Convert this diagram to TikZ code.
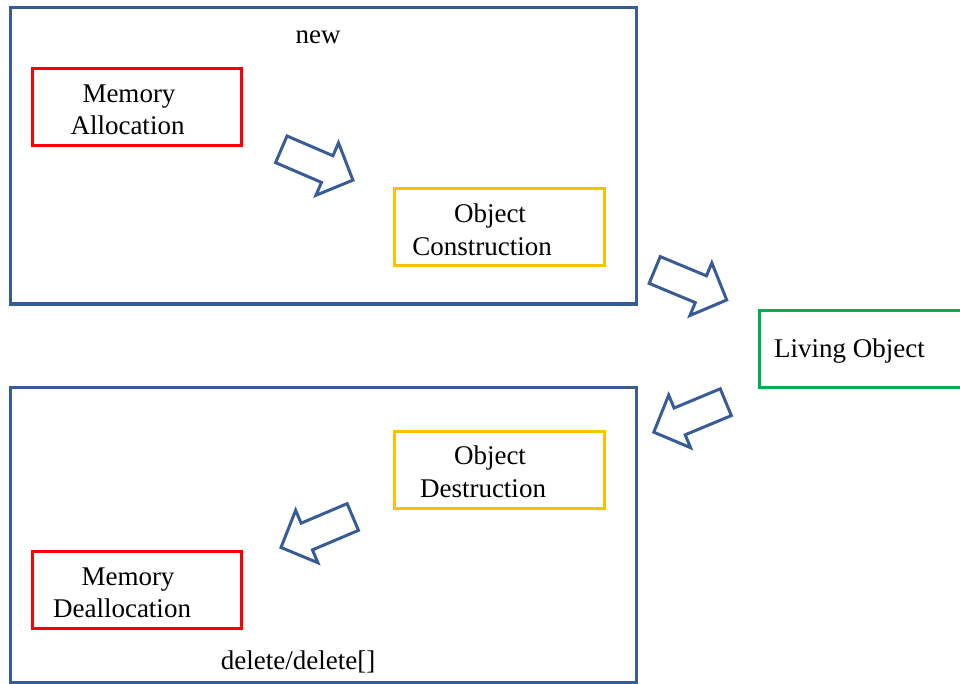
\documentclass[tikz,border=0pt]{standalone}
\usepackage{fontspec}
\setmainfont{Liberation Serif}
\definecolor{frameblue}{RGB}{56,93,150}
\definecolor{boxred}{RGB}{255,0,0}
\definecolor{boxorange}{RGB}{255,192,0}
\definecolor{boxgreen}{RGB}{0,176,80}
\tikzset{
  bigframe/.style={draw=frameblue, line width=3pt, inner sep=0pt},
  redbox/.style={draw=boxred, line width=3pt, minimum width=209pt, minimum height=77pt, inner sep=0pt},
  orangebox/.style={draw=boxorange, line width=3pt, minimum width=210pt, minimum height=77pt, inner sep=0pt},
  greenbox/.style={draw=boxgreen, line width=3pt, minimum width=221pt, minimum height=77pt, inner sep=0pt},
  txt/.style={font=\fontsize{27}{32.5}\selectfont, align=center, inner sep=0pt},
  blockarrow/.pic={
    \draw[frameblue, line width=3pt, line join=miter]
      (0,-14.5) -- (50,-14.5) -- (50,-28.5) -- (78,0) -- (50,28.5) -- (50,14.5) -- (0,14.5) -- cycle;
  }
}
\begin{document}
\begin{tikzpicture}[x=1pt, y=-1pt]
\useasboundingbox (0,0) rectangle (960,684);
% frames
\node[bigframe, minimum width=626pt, minimum height=296pt] (newframe) at (323,156) {};
\node[bigframe, minimum width=626pt, minimum height=295pt] (delframe) at (323,534.5) {};
\node[txt] (newlbl) at (318,37) {new};
\node[txt] (dellbl) at (298,662) {delete/delete[]};
% inner boxes
\node[redbox] (alloc) at (136.5,107.5) {};
\node[txt] (alloctxt) at (127.5,110) {\hspace*{3pt}Memory\\Allocation};
\node[orangebox] (constr) at (499,227.5) {};
\node[txt] (constrtxt) at (482,230) {\hspace*{16pt}Object\\Construction};
\node[orangebox] (destr) at (499,469.5) {};
\node[txt] (destrtxt) at (483,472) {\hspace*{14pt}Object\\Destruction};
\node[redbox] (dealloc) at (136.5,590) {};
\node[txt] (dealloctxt) at (122,593) {\hspace*{12pt}Memory\\Deallocation};
\node[greenbox] (living) at (869.5,348.5) {};
\node[txt, anchor=west] (livingtxt) at (774,351) {Living Object};
% block arrows
\pic[rotate=-23.3] (a1) at (281.3,149.3) {blockarrow};
\pic[rotate=-22.6] (a2) at (654.7,270) {blockarrow};
\pic[rotate=202.6] (a3) at (725.8,402.2) {blockarrow};
\pic[rotate=203] (a4) at (352.8,517) {blockarrow};
\end{tikzpicture}
\end{document}
